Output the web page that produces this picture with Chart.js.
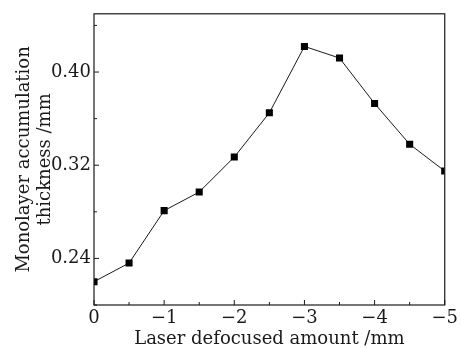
<!DOCTYPE html>
<html>
<head>
<meta charset="utf-8">
<script src="https://cdn.jsdelivr.net/npm/chart.js@4/dist/chart.umd.min.js"></script>
<style>
  html, body { margin: 0; padding: 0; background: #fff; }
  #wrap { width: 461px; height: 348px; }
</style>
</head>
<body>
<div id="wrap"><canvas id="c" width="461" height="348"></canvas></div>
<script>
// defocus amount (mm) and single-layer thickness (mm)
var defocus = [0, -0.5, -1, -1.5, -2, -2.5, -3, -3.5, -4, -4.5, -5];
var thickness = [0.220, 0.236, 0.281, 0.297, 0.327, 0.365, 0.422, 0.412, 0.373, 0.338, 0.315];
var xTicks = [0, -1, -2, -3, -4, -5];
var yTicks = [0.24, 0.32, 0.40];

var ink = "#1a1a1a";
var serif = "'DejaVu Serif', 'Liberation Serif', serif";

// frame around the plot plus inward major/minor ticks
var frame = {
  id: "frame",
  afterDraw: function (chart) {
    var a = chart.chartArea, ctx = chart.ctx;
    var xs = chart.scales.x, ys = chart.scales.y;
    ctx.save();
    ctx.strokeStyle = ink;
    ctx.lineWidth = 1.2;
    ctx.strokeRect(a.left, a.top, a.right - a.left, a.bottom - a.top);
    ctx.lineWidth = 1;
    ctx.beginPath();
    for (var v = 0; v >= -5; v -= 0.5) {
      var px = xs.getPixelForValue(v);
      var len = (v % 1 === 0) ? 5 : 3;
      ctx.moveTo(px, a.bottom);
      ctx.lineTo(px, a.bottom - len);
    }
    for (var i = 0; i <= 6; i++) {
      var val = 0.20 + i * 0.04;
      var py = ys.getPixelForValue(val);
      var major = yTicks.some(function (t) { return Math.abs(t - val) < 1e-6; });
      ctx.moveTo(a.left, py);
      ctx.lineTo(a.left + (major ? 5 : 3), py);
    }
    ctx.stroke();
    ctx.restore();
  }
};

new Chart(document.getElementById("c").getContext("2d"), {
  type: "line",
  data: {
    datasets: [{
      data: defocus.map(function (x, i) { return { x: x, y: thickness[i] }; }),
      borderColor: ink,
      borderWidth: 1,
      backgroundColor: "#000",
      pointStyle: "rect",
      pointRadius: 5,
      pointBorderWidth: 0,
      tension: 0
    }]
  },
  options: {
    responsive: false,
    animation: false,
    events: [],
    layout: { padding: { top: 13, right: 9, left: 0, bottom: 0 } },
    plugins: { legend: { display: false }, tooltip: { enabled: false } },
    scales: {
      x: {
        type: "linear",
        min: -5, max: 0,
        reverse: true,
        afterBuildTicks: function (s) { s.ticks = xTicks.map(function (v) { return { value: v }; }); },
        grid: { display: false, drawTicks: false },
        border: { display: false },
        ticks: {
          color: ink,
          padding: 3,
          font: { family: serif, size: 18 },
          callback: function (v) { return v < 0 ? "\u2212" + Math.abs(v) : String(v); }
        },
        title: {
          display: true,
          text: "Laser defocused amount /mm",
          color: ink,
          font: { family: serif, size: 18 },
          padding: { top: 0, bottom: -2 }
        },
        afterFit: function (s) { s.height = 43; }
      },
      y: {
        min: 0.20, max: 0.45,
        afterBuildTicks: function (s) { s.ticks = yTicks.map(function (v) { return { value: v }; }); },
        grid: { display: false, drawTicks: false },
        border: { display: false },
        ticks: {
          color: ink,
          padding: 3,
          font: { family: serif, size: 18 },
          callback: function (v) { return v.toFixed(2); }
        },
        title: {
          display: true,
          text: ["Monolayer accumulation", "thickness /mm"],
          color: ink,
          font: { family: serif, size: 18, lineHeight: 1.15 },
          padding: { top: 14, bottom: 0 }
        },
        afterFit: function (s) { s.width = 94; }
      }
    }
  },
  plugins: [frame]
});
</script>
</body>
</html>
